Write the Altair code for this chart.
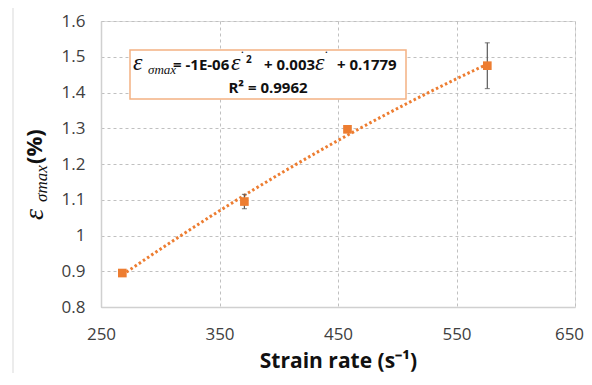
import altair as alt
import pandas as pd

# data
strain_rate = [268, 371, 458, 576]
eps_max = [0.895, 1.095, 1.297, 1.475]
err = [0.004, 0.020, 0.004, 0.064]

x_ticks = [250, 350, 450, 550, 650]
y_ticks = [0.8, 0.9, 1.0, 1.1, 1.2, 1.3, 1.4, 1.5, 1.6]

eq_parts = ["ε", "σmax", "= -1E-06", "ε", "2", "+ 0.003", "ε", "+ 0.1779"]
dot = "˙"
r2_text = ["R² = 0.9962"]
ytitle_parts = ["ε", "σmax", "(%)"]
xtitle = "Strain rate (s⁻¹)"

df = pd.DataFrame({"x": strain_rate, "y": eps_max, "e": err})
df["lo"] = df["y"] - df["e"]
df["hi"] = df["y"] + df["e"]

ORANGE = "#ED7D31"
SANS = "Open Sans"
SERIF = "Liberation Serif"

xs = alt.Scale(domain=[250, 650], nice=False, zero=False)
ys = alt.Scale(domain=[0.8, 1.6], nice=False, zero=False)

xaxis = alt.Axis(values=x_ticks, title=xtitle, grid=True, ticks=False,
                 labelFontSize=17, labelColor="#404040", labelFont=SANS,
                 labelPadding=19, labelFlush=False,
                 labelOffset={"condition": {"test": "datum.value == 650", "value": -6}, "value": 0},
                 titleFont=SANS, titleFontSize=21,
                 titleFontWeight="bold", titleColor="#111111", titlePadding=8,
                 domainColor="#d0d0d0", domainWidth=1.5, labelOverlap=False,
                 gridColor="#c0c0c0", gridDash=[3, 3], gridWidth=1)
yaxis = alt.Axis(values=y_ticks, title=None, grid=True, ticks=False, format=".1~f",
                 labelFontSize=17, labelColor="#404040", labelFont=SANS,
                 labelPadding=16, labelOverlap=False, labelFlush=False,
                 domainColor="#d0d0d0", domainWidth=1.5,
                 gridColor="#c0c0c0", gridDash=[3, 3], gridWidth=1)

X = alt.X("x:Q", scale=xs, axis=xaxis)
Y = alt.Y("y:Q", scale=ys, axis=yaxis)
YLO = alt.Y("lo:Q", scale=ys, axis=yaxis)
YHI = alt.Y("hi:Q", scale=ys, axis=yaxis)

base = alt.Chart(df)

trend = base.transform_regression(
    "x", "y", method="poly", order=2, extent=[strain_rate[0], strain_rate[-1]]
).mark_line(color=ORANGE, strokeWidth=3, strokeDash=[2.5, 2.5]).encode(x=X, y=Y)

ebar = base.mark_rule(color="#595959", strokeWidth=1.2).encode(x=X, y=YLO, y2="hi:Q")
cap_lo = base.mark_tick(color="#595959", orient="horizontal", size=5, thickness=1.2).encode(x=X, y=YLO)
cap_hi = base.mark_tick(color="#595959", orient="horizontal", size=5, thickness=1.2).encode(x=X, y=YHI)

pts = base.mark_square(color=ORANGE, size=75, opacity=1).encode(x=X, y=Y)

one = pd.DataFrame({"k": [0]})

border_top = alt.Chart(one).mark_rule(color="#d9d9d9", strokeWidth=1).encode(
    x=alt.value(-88), x2=alt.value(490), y=alt.value(-15)
)
border_left = alt.Chart(one).mark_rule(color="#d9d9d9", strokeWidth=1).encode(
    x=alt.value(-88), y=alt.value(-15), y2=alt.value(358)
)

box = alt.Chart(one).mark_rect(fill="white", stroke="#F4B183", strokeWidth=1.5).encode(
    x=alt.value(29), x2=alt.value(305), y=alt.value(29), y2=alt.value(78)
)

def txt(s, x, y, size, font, weight="normal", style="normal", angle=0, align="left"):
    kw = dict(text=s, font=font, fontSize=size, fontWeight=weight, fontStyle=style,
              align=align, baseline="alphabetic", color="#111111")
    if angle:
        kw["angle"] = angle
    return alt.Chart(one).mark_text(**kw).encode(x=alt.value(x), y=alt.value(y))

eq = [
    txt(eq_parts[0], 32, 49, 24, SERIF, style="italic"),
    txt(eq_parts[1], 47, 53, 13, SERIF, style="italic"),
    txt(eq_parts[2], 72, 49, 15, SANS, weight="bold"),
    txt(eq_parts[3], 130, 49, 24, SERIF, style="italic"),
    txt(dot, 139, 40, 14, SERIF),
    txt(eq_parts[4], 145, 42, 10, SANS, weight="bold"),
    txt(eq_parts[5], 163, 49, 15, SANS, weight="bold"),
    txt(eq_parts[6], 214, 49, 24, SERIF, style="italic"),
    txt(dot, 223, 40, 14, SERIF),
    txt(eq_parts[7], 236, 49, 15, SANS, weight="bold"),
    txt(r2_text[0], 167, 72, 15, SANS, weight="bold", align="center"),
]

ytitle = [
    txt(ytitle_parts[0], -58, 199, 28, SERIF, style="italic", angle=270),
    txt(ytitle_parts[1], -54, 181, 17, SERIF, style="italic", angle=270),
    txt(ytitle_parts[2], -59, 143, 22, SANS, weight="bold", angle=270),
]

chart = alt.layer(
    border_top, border_left, trend, ebar, cap_lo, cap_hi, pts, box, *eq, *ytitle
).properties(
    width=474, height=286,
    autosize=alt.AutoSizeParams(type="none"),
    padding={"left": 93, "top": 13, "right": 9, "bottom": 66},
).configure_view(stroke=None).configure(background="white")

chart.save("out.html", embed_options={"renderer": "svg", "actions": False})
